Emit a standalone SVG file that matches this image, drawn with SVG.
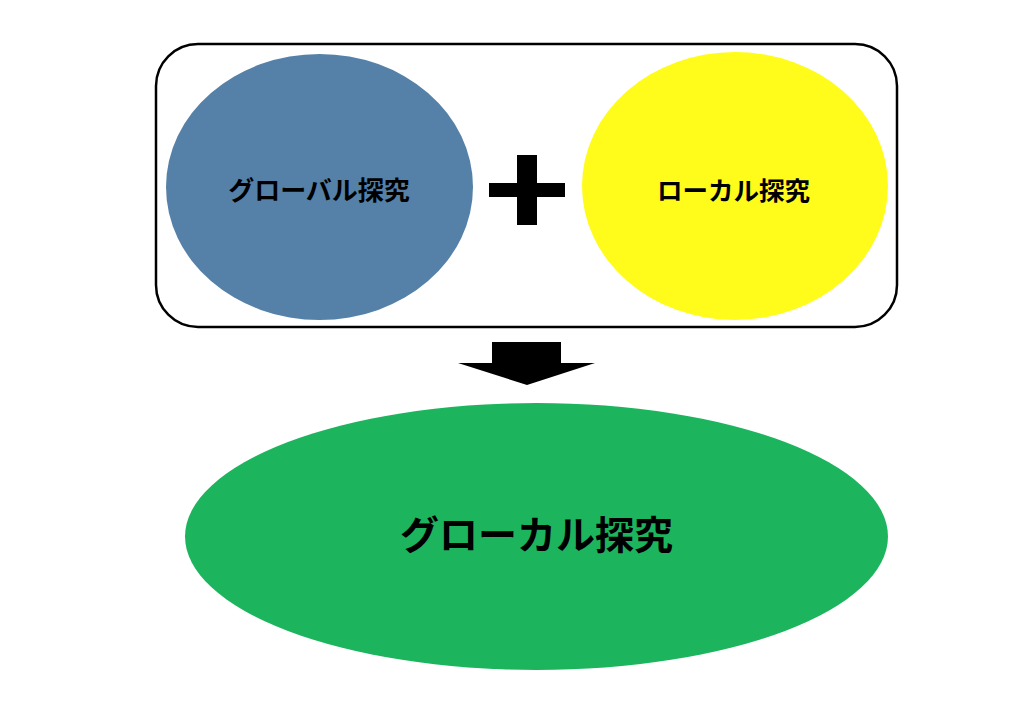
<svg xmlns="http://www.w3.org/2000/svg" width="1024" height="724" viewBox="0 0 1024 724">
<style>
.lbl{font-family:"Noto Sans CJK JP","Noto Sans CJK SC",sans-serif;font-weight:bold;fill:#000;text-anchor:middle;dominant-baseline:central}
</style>
<rect width="1024" height="724" fill="#fff"/>
<g id="frame">
<rect x="156" y="44" width="741" height="283" rx="42" ry="42" fill="#fff" stroke="#000" stroke-width="2.5"/>
</g>
<g id="global">
<ellipse cx="319.5" cy="187" rx="153.5" ry="133" fill="#5581A8"/>
<text class="lbl" x="319" y="188" font-size="26">グローバル探究</text>
</g>
<g id="plus">
<rect x="517" y="155" width="20" height="70" fill="#000"/>
<rect x="489" y="183" width="76" height="14" fill="#000"/>
</g>
<g id="local">
<ellipse cx="735" cy="186" rx="153" ry="134" fill="#FFFC1B"/>
<text class="lbl" x="733.5" y="188" font-size="25.5">ローカル探究</text>
</g>
<g id="connectors">
<path d="M492 342 H561 V363 H595 L527 385 L458 363 H492 Z" fill="#000"/>
</g>
<g id="glocal">
<ellipse cx="536.5" cy="536.5" rx="351.5" ry="133.5" fill="#1CB55E"/>
<text class="lbl" x="536.5" y="532" font-size="39">グローカル探究</text>
</g>
</svg>
